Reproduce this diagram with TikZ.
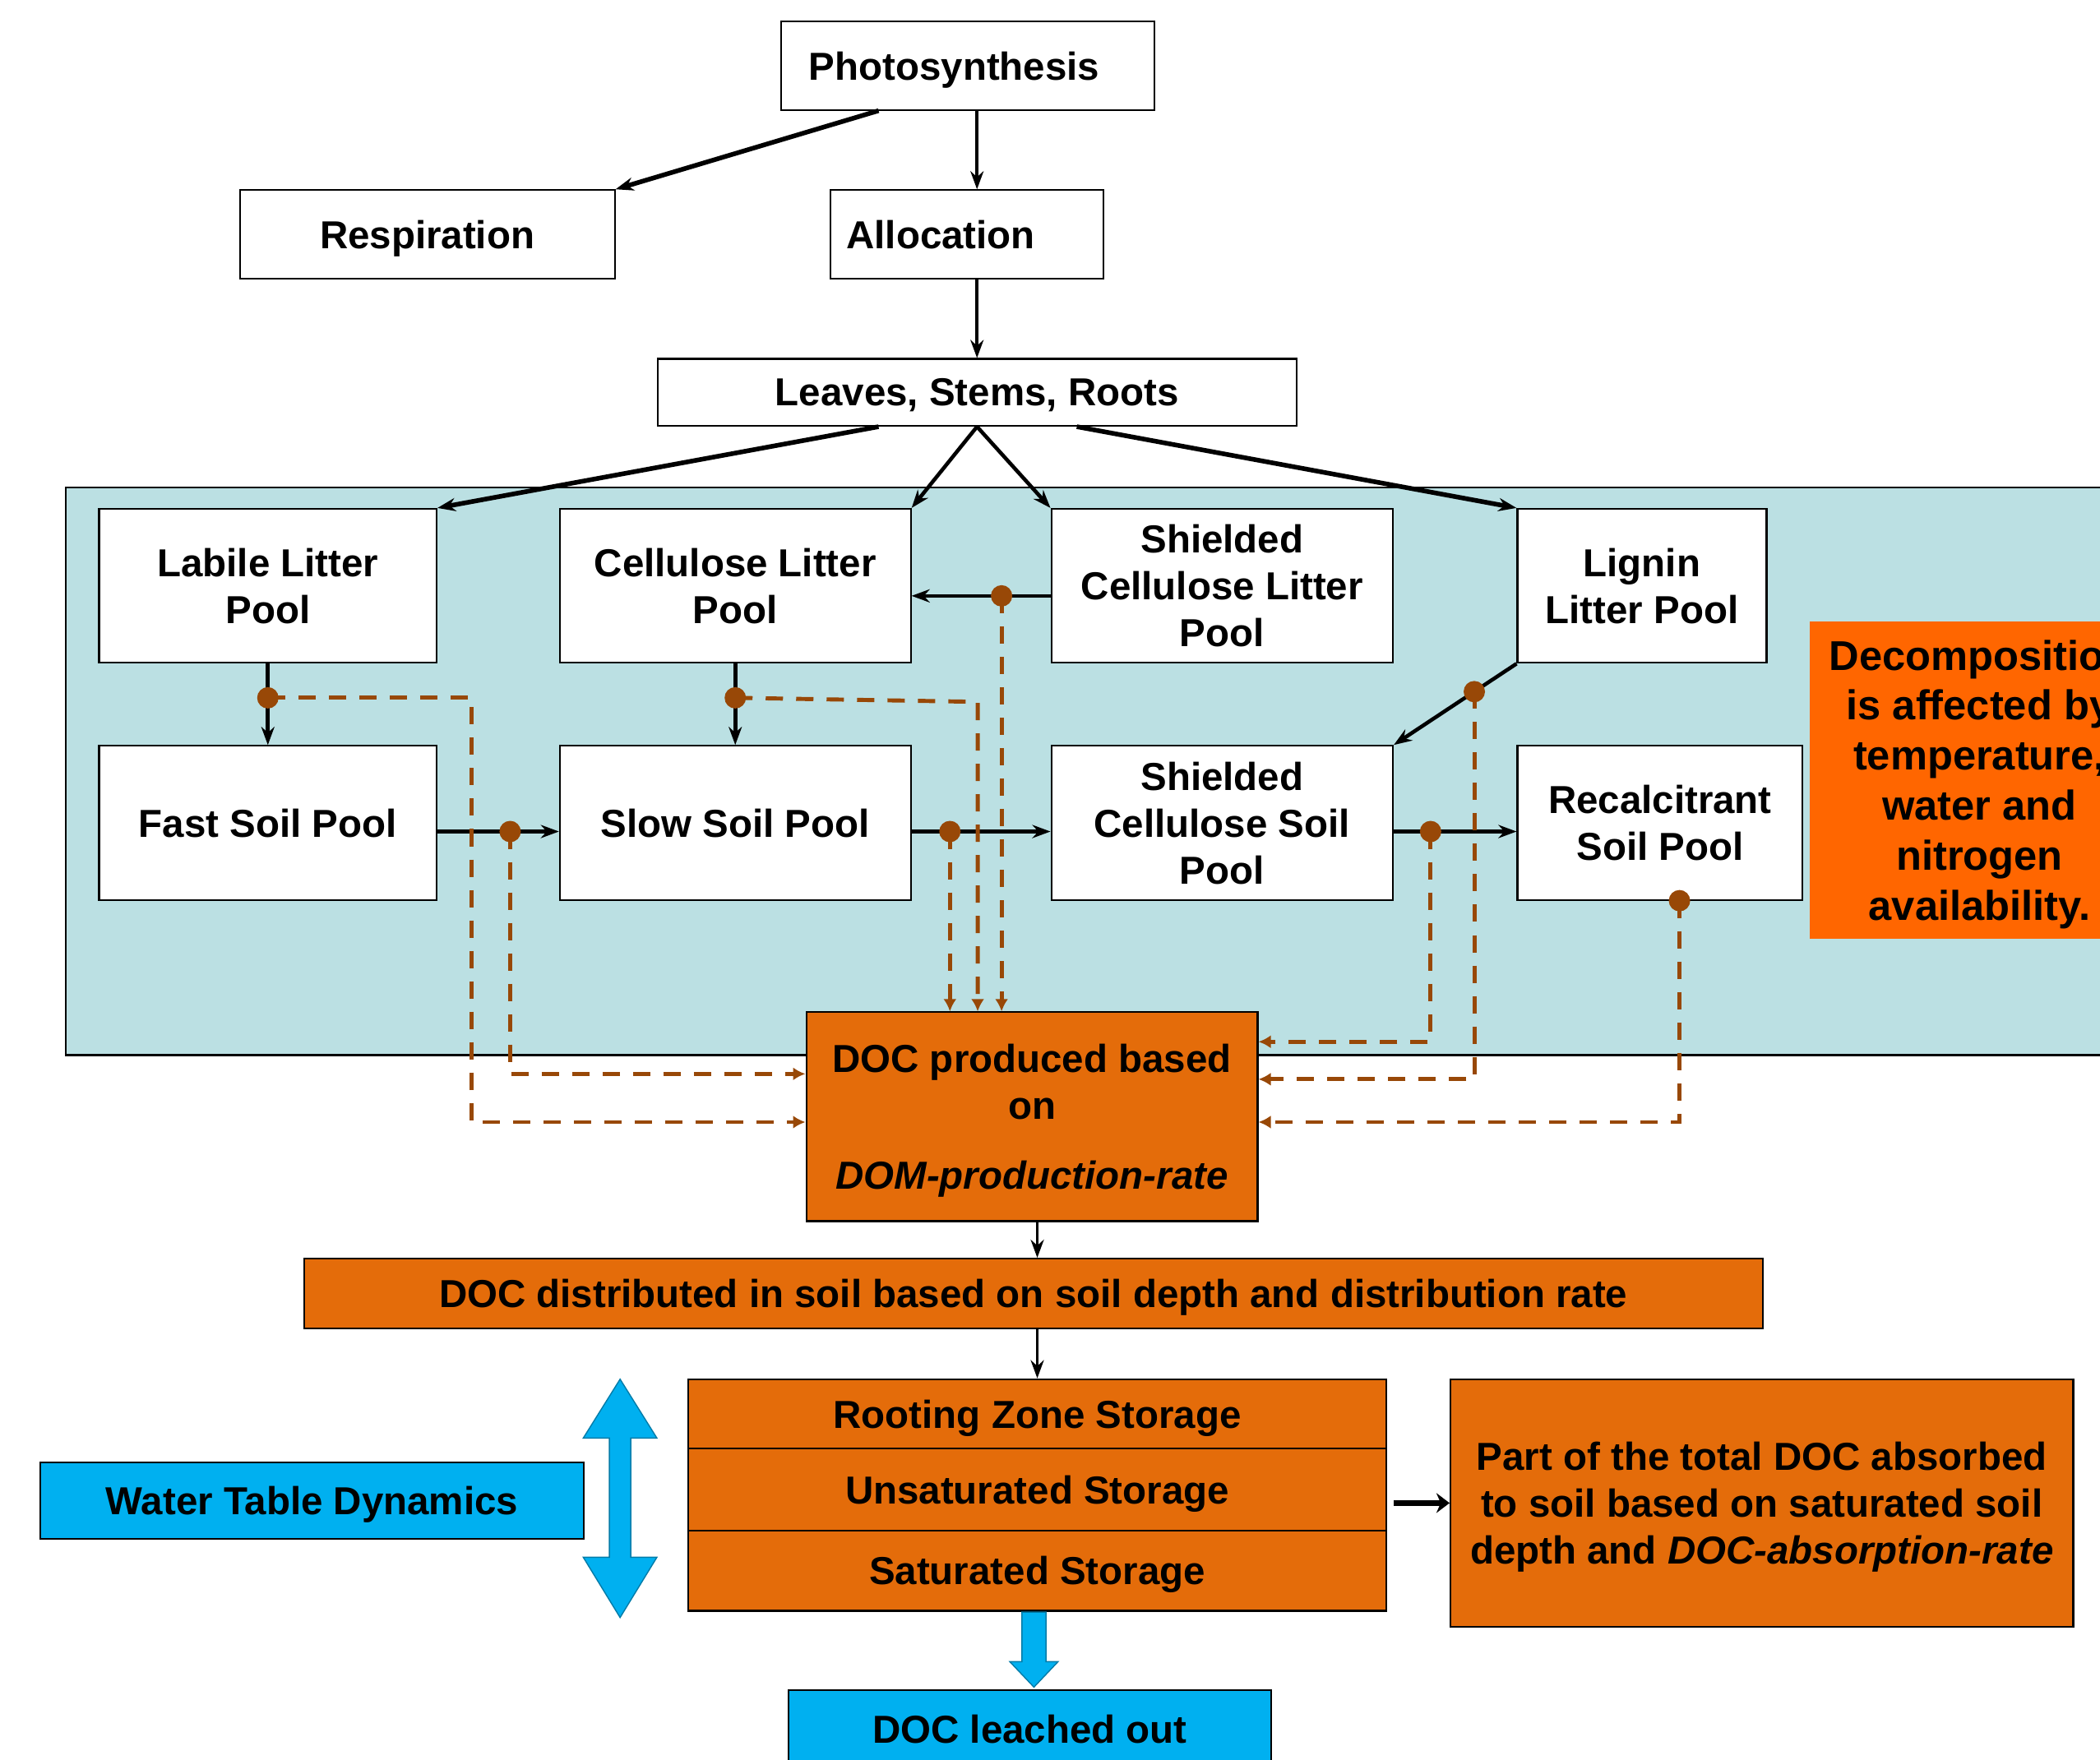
\documentclass[tikz,border=0pt]{standalone}
\usepackage{fontspec}
\setmainfont{Liberation Sans}
\usetikzlibrary{arrows.meta, positioning, calc}
\definecolor{poolbg}{HTML}{BBE0E3}
\definecolor{docorange}{HTML}{E46C0A}
\definecolor{decorange}{HTML}{FF6600}
\definecolor{flowbrown}{HTML}{984807}
\definecolor{waterblue}{HTML}{00B0F0}
\def\pxu{0.016288cm}
\tikzset{
	pool/.style={rectangle, draw, fill=white, line width=0.6pt, align=center, inner sep=0pt},
	docbox/.style={pool, fill=docorange},
	waterbox/.style={pool, fill=waterblue},
	flow/.style={draw, line width=1.3pt, -{Stealth[length=2.2mm, width=1.6mm]}},
	dashflow/.style={draw=flowbrown, line width=1.4pt, dash pattern=on 0.21cm off 0.16cm, -{Latex[length=1.5mm, width=1.6mm]}},
	bigarrow/.style={fill=waterblue, draw=waterblue!70!black, line width=0.4pt}
}

\begin{document}
\begin{tikzpicture}[
	x=\pxu, y=-\pxu,
	font=\bfseries\fontsize{13.5pt}{16.2pt}\selectfont,
	every node/.append style={text depth=0pt},
	]
	\useasboundingbox (0,0) rectangle (1568,1314);
	
	% --- Background of the litter and soil pools ---
	\draw[fill=poolbg, line width=0.6pt] (49,364) rectangle (1600,788);
	
	% --- Plant boxes ---
	\node[pool, minimum width=279*\pxu, minimum height=66*\pxu, text width=237*\pxu, align=left] (photo) at (722.5,49) {Photosynthesis};
	\node[pool, minimum width=280*\pxu, minimum height=66*\pxu] (resp) at (319,175) {Respiration};
	\node[pool, minimum width=204*\pxu, minimum height=66*\pxu, text width=180*\pxu, align=left] (alloc) at (722,175) {Allocation};
	\node[pool, minimum width=477*\pxu, minimum height=50*\pxu] (leaves) at (729.5,293) {Leaves, Stems, Roots};
	
	% --- Litter pools ---
	\node[pool, minimum width=252*\pxu, minimum height=115*\pxu] (labile) at (200,437.5) {Labile Litter\\Pool};
	\node[pool, minimum width=262*\pxu, minimum height=115*\pxu] (cell) at (549,437.5) {Cellulose Litter\\Pool};
	\node[pool, minimum width=255*\pxu, minimum height=115*\pxu] (shcell) at (912.5,437.5) {Shielded\\Cellulose Litter\\Pool};
	\node[pool, minimum width=186*\pxu, minimum height=115*\pxu] (lignin) at (1226,437.5) {Lignin\\Litter Pool};
	
	% --- Soil pools ---
	\node[pool, minimum width=252*\pxu, minimum height=115*\pxu] (fast) at (200,614.5) {Fast Soil Pool};
	\node[pool, minimum width=262*\pxu, minimum height=115*\pxu] (slow) at (549,614.5) {Slow Soil Pool};
	\node[pool, minimum width=255*\pxu, minimum height=115*\pxu] (shsoil) at (912.5,614.5) {Shielded\\Cellulose Soil\\Pool};
	\node[pool, minimum width=213*\pxu, minimum height=115*\pxu] (recal) at (1239.5,614.5) {Recalcitrant\\Soil Pool};
	
	% --- Note on decomposition ---
	\node[rectangle, fill=decorange, minimum width=254*\pxu, minimum height=237*\pxu, align=center, font=\bfseries\fontsize{14.4pt}{17.3pt}\selectfont] (decomp) at (1478,582.5) {Decomposition\\is affected by\\temperature,\\water and\\nitrogen\\availability.};
	
	% --- DOC boxes ---
	\node[docbox, minimum width=337*\pxu, minimum height=156*\pxu] (docprod) at (770.5,834) {DOC produced based\\on\\[0.6em]\textit{DOM-production-rate}};
	\node[docbox, minimum width=1089*\pxu, minimum height=52*\pxu] (docdist) at (771.5,966) {DOC distributed in soil based on soil depth and distribution rate};
	\node[docbox, minimum width=521*\pxu, minimum height=52*\pxu] (root) at (774.5,1056) {Rooting Zone Storage};
	\node[docbox, minimum width=521*\pxu, minimum height=61*\pxu] (unsat) at (774.5,1112.5) {Unsaturated Storage};
	\node[docbox, minimum width=521*\pxu, minimum height=60*\pxu] (sat) at (774.5,1173) {Saturated Storage};
	\node[docbox, minimum width=465*\pxu, minimum height=185*\pxu] (part) at (1315.5,1122.5) {Part of the total DOC absorbed\\to soil based on saturated soil\\depth and \textit{DOC-absorption-rate}};
	
	% --- Water boxes ---
	\node[waterbox, minimum width=406*\pxu, minimum height=57*\pxu] (water) at (233,1120.5) {Water Table Dynamics};
	\node[waterbox, minimum width=360*\pxu, minimum height=58*\pxu] (leached) at (769,1291) {DOC leached out};
	
	% --- Plant arrows ---
	\draw[flow, line width=1.6pt] ($(photo.south)+(-66.5,0)$) -- (resp.north east);
	\draw[flow, line width=1pt] (photo.south -| leaves.north) -- (alloc.north -| leaves.north);
	\draw[flow, line width=1pt] (alloc.south -| leaves.north) -- (leaves.north);
	\draw[flow, line width=1.6pt] ($(leaves.south)+(-73.5,0)$) -- (labile.north east);
	\draw[flow] (leaves.south) -- (cell.north east);
	\draw[flow] (leaves.south) -- (shcell.north west);
	\draw[flow, line width=1.6pt] ($(leaves.south)+(74.5,0)$) -- (lignin.north west);
	
	% --- Pool arrows ---
	\draw[flow] (labile.south) -- (fast.north);
	\draw[flow] (cell.south) -- (slow.north);
	\draw[flow] ($(shcell.west)+(0,7.5)$) -- ($(cell.east)+(0,7.5)$);
	\draw[flow] (lignin.south west) -- (shsoil.north east);
	\draw[flow] ($(fast.east)+(0,6.5)$) -- ($(slow.west)+(0,6.5)$);
	\draw[flow] ($(slow.east)+(0,6.5)$) -- ($(shsoil.west)+(0,6.5)$);
	\draw[flow] ($(shsoil.east)+(0,6.5)$) -- ($(recal.west)+(0,6.5)$);
	
	% --- Taps on the pool arrows ---
	\coordinate (dLab) at ($(labile.south)!0.42!(fast.north)$);
	\coordinate (dCell) at ($(cell.south)!0.42!(slow.north)$);
	\coordinate (dSh) at ($(shcell.west)!0.352!(cell.east)+(0,7.5)$);
	\coordinate (dLig) at ($(lignin.south west)!0.344!(shsoil.north east)$);
	\coordinate (dFast) at ($(fast.east)!0.598!(slow.west)+(0,6.5)$);
	\coordinate (dSlow) at ($(slow.east)!0.276!(shsoil.west)+(0,6.5)$);
	\coordinate (dShs) at ($(shsoil.east)!0.3!(recal.west)+(0,6.5)$);
	\coordinate (dRec) at ($(recal.south)+(14.5,0)$);
	
	% --- DOC flows ---
	\draw[dashflow] (dLab) -- ++(152,0) |- ($(docprod.west)+(0,4)$);
	\draw[dashflow] (dFast) |- ($(docprod.west)+(0,-32)$);
	\draw[dashflow] (dCell) -- ++(181,3) -- ($(docprod.north)+(-40.5,0)$);
	\draw[dashflow] (dSlow) -- (dSlow |- docprod.north);
	\draw[dashflow] (dSh) -- (dSh |- docprod.north);
	\draw[dashflow] (dShs) |- ($(docprod.east)+(0,-56)$);
	\draw[dashflow] (dLig) |- ($(docprod.east)+(0,-28)$);
	\draw[dashflow] (dRec) |- ($(docprod.east)+(0,4)$);
	\foreach \d in {dLab,dCell,dSh,dLig,dFast,dSlow,dShs,dRec}
		\fill[flowbrown] (\d) circle[radius=0.13cm];
	
	% --- DOC arrows ---
	\draw[flow, line width=1pt] (docprod.south -| root.north) -- (docdist.north -| root.north);
	\draw[flow, line width=1pt] (docdist.south -| root.north) -- (root.north);
	\draw[flow, line width=2.2pt, -{Stealth[length=1.6mm, width=2.4mm]}] ([xshift=0.08cm]unsat.east |- part.west) -- (part.west);
	
	% --- Water arrows ---
	\draw[bigarrow] (463,1030) -- (490.5,1074) -- (471,1074) -- (471,1163) -- (490.5,1163) -- (463,1208)
		-- (435.5,1163) -- (455,1163) -- (455,1074) -- (435.5,1074) -- cycle;
	\draw[bigarrow] (763,1204) -- (781,1204) -- (781,1241) -- (790,1241) -- (772,1260) -- (754,1241) -- (763,1241) -- cycle;
	
\end{tikzpicture}
\end{document}
